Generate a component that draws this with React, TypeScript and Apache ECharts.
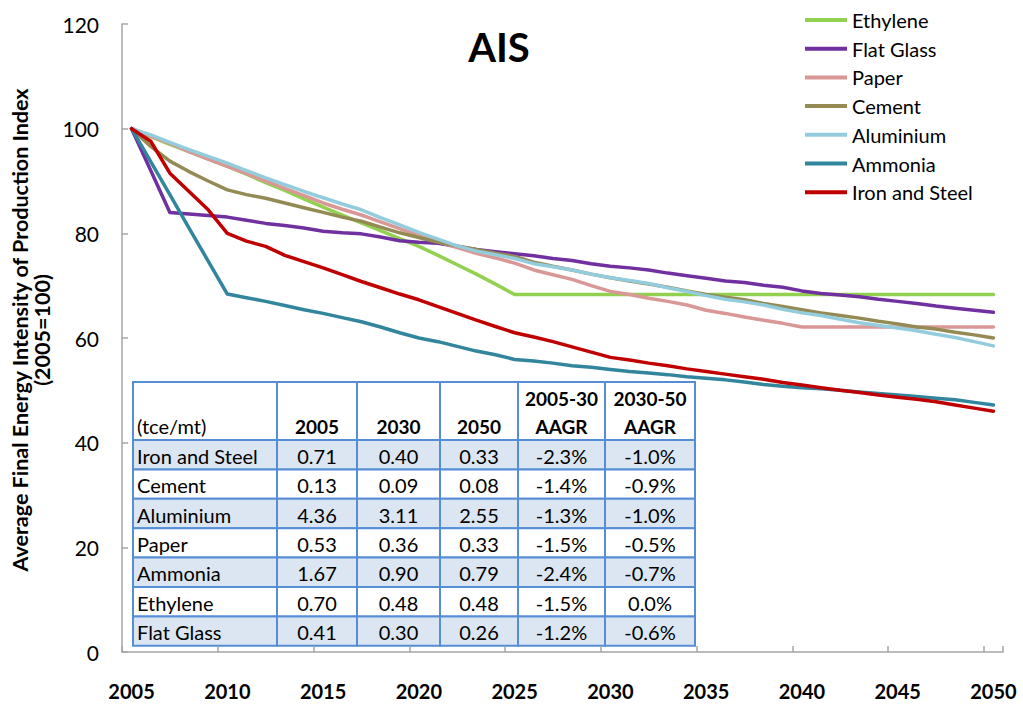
import React, { useEffect, useRef } from "react";
import * as echarts from "echarts";

const years = [
  "2005","2006","2007","2008","2009","2010","2011","2012","2013","2014",
  "2015","2016","2017","2018","2019","2020","2021","2022","2023","2024",
  "2025","2026","2027","2028","2029","2030","2031","2032","2033","2034",
  "2035","2036","2037","2038","2039","2040","2041","2042","2043","2044",
  "2045","2046","2047","2048","2049","2050",
];

const ethylene = [
  100, 98.5, 97, 95.6, 94.2, 92.8, 91.3, 89.7, 88.2, 86.6,
  85.0, 83.5, 82.0, 80.5, 79.0, 77.5, 75.8, 74.0, 72.2, 70.3,
  68.3, 68.3, 68.3, 68.3, 68.3, 68.3, 68.3, 68.3, 68.3, 68.3,
  68.3, 68.3, 68.3, 68.3, 68.3, 68.3, 68.3, 68.3, 68.3, 68.3,
  68.3, 68.3, 68.3, 68.3, 68.3, 68.3,
];
const flatGlass = [
  100, 92, 84.0, 83.7, 83.4, 83.1, 82.5, 81.9, 81.5, 81.0,
  80.4, 80.1, 79.9, 79.3, 78.6, 78.3, 78.1, 77.5, 76.9, 76.5,
  76.1, 75.7, 75.2, 74.8, 74.2, 73.7, 73.4, 73.0, 72.4, 71.9,
  71.4, 70.9, 70.6, 70.1, 69.7, 69.0, 68.5, 68.2, 67.9, 67.4,
  67.0, 66.6, 66.1, 65.7, 65.3, 64.9,
];
const paper = [
  100, 98.6, 97.2, 95.6, 94.2, 92.8, 91.4, 90.0, 88.6, 87.2,
  85.8, 84.6, 83.5, 82.2, 80.9, 79.6, 78.4, 77.3, 76.2, 75.3,
  74.3, 73.0, 72.1, 71.2, 70.0, 68.9, 68.3, 67.6, 67.0, 66.3,
  65.3, 64.7, 64.0, 63.4, 62.8, 62.1, 62.1, 62.1, 62.1, 62.1,
  62.1, 62.1, 62.1, 62.1, 62.1, 62.1,
];
const cement = [
  100, 96.6, 93.8, 91.8, 90.0, 88.3, 87.4, 86.7, 85.8, 84.9,
  84.0, 83.1, 82.3, 81.2, 80.1, 79.2, 78.3, 77.6, 76.9, 76.2,
  75.6, 74.5, 73.7, 73.0, 72.2, 71.5, 70.9, 70.3, 69.7, 69.0,
  68.3, 67.8, 67.3, 66.6, 66.0, 65.4, 64.8, 64.3, 63.8, 63.2,
  62.7, 62.1, 61.7, 61.1, 60.6, 60.0,
];
const aluminium = [
  100, 98.8, 97.4, 96.0, 94.7, 93.4, 92.0, 90.6, 89.3, 88.0,
  86.8, 85.6, 84.5, 83.0, 81.6, 80.2, 78.9, 77.6, 76.6, 75.9,
  75.2, 74.2, 73.6, 73.0, 72.2, 71.5, 71.0, 70.4, 69.6, 68.9,
  68.1, 67.4, 66.9, 66.3, 65.5, 64.8, 64.3, 63.6, 62.9, 62.4,
  61.9, 61.4, 60.7, 60.1, 59.3, 58.5,
];
const ammonia = [
  100, 93.7, 87.4, 81.0, 74.7, 68.4, 67.7, 67.0, 66.2, 65.4,
  64.7, 63.9, 63.1, 62.1, 61.0, 60.0, 59.3, 58.4, 57.5, 56.8,
  55.9, 55.6, 55.2, 54.7, 54.4, 54.0, 53.6, 53.3, 53.0, 52.6,
  52.3, 52.0, 51.6, 51.1, 50.8, 50.5, 50.3, 50.0, 49.7, 49.4,
  49.1, 48.8, 48.5, 48.2, 47.7, 47.2,
];
const ironSteel = [
  100, 97.6, 91.5, 88.0, 84.5, 80.0, 78.5, 77.5, 75.8, 74.6,
  73.4, 72.1, 70.8, 69.6, 68.4, 67.3, 66.0, 64.7, 63.4, 62.2,
  61.0, 60.2, 59.3, 58.3, 57.3, 56.3, 55.8, 55.2, 54.7, 54.1,
  53.6, 53.1, 52.6, 52.1, 51.5, 51.0, 50.5, 50.0, 49.6, 49.1,
  48.7, 48.3, 47.8, 47.2, 46.6, 46.0,
];

const seriesNames = ["Ethylene", "Flat Glass", "Paper", "Cement", "Aluminium", "Ammonia", "Iron and Steel"];
const seriesData = [ethylene, flatGlass, paper, cement, aluminium, ammonia, ironSteel];
const seriesColors = ["#92d050", "#7030a0", "#d99795", "#948a54", "#93cddd", "#31859c", "#c00000"];

// table
const tableUnit = "(tce/mt)";
const tableHeadTop = ["", "", "", "", "2005-30", "2030-50"];
const tableHeadBottom = ["", "2005", "2030", "2050", "AAGR", "AAGR"];
const tableNames = ["Iron and Steel", "Cement", "Aluminium", "Paper", "Ammonia", "Ethylene", "Flat Glass"];
const t2005 = ["0.71", "0.13", "4.36", "0.53", "1.67", "0.70", "0.41"];
const t2030 = ["0.40", "0.09", "3.11", "0.36", "0.90", "0.48", "0.30"];
const t2050 = ["0.33", "0.08", "2.55", "0.33", "0.79", "0.48", "0.26"];
const aagr0530 = ["-2.3%", "-1.4%", "-1.3%", "-1.5%", "-2.4%", "-1.5%", "-1.2%"];
const aagr3050 = ["-1.0%", "-0.9%", "-1.0%", "-0.5%", "-0.7%", "0.0%", "-0.6%"];

const FONT = "Lato, 'Noto Sans', sans-serif";

function buildTable() {
  const colX = [133, 277, 357, 440, 518, 605, 695];
  const top = 382;
  const headH = 58;
  const rowH = 29.4;
  const border = "#558ed5";
  const stripe = "#dce6f2";
  const els: any[] = [];
  for (let c = 0; c < 6; c++) {
    els.push({
      type: "rect",
      shape: { x: colX[c], y: top, width: colX[c + 1] - colX[c], height: headH },
      style: { fill: "#ffffff", stroke: border, lineWidth: 2 },
    });
  }
  els.push({
    type: "text",
    x: colX[0] + 4,
    y: top + headH - 14,
    style: { text: tableUnit, font: `20px ${FONT}`, fill: "#000", align: "left", verticalAlign: "middle" },
  });
  for (let c = 1; c < 6; c++) {
    const cx = (colX[c] + colX[c + 1]) / 2;
    if (tableHeadTop[c]) {
      els.push({
        type: "text",
        x: cx,
        y: top + 16,
        style: { text: tableHeadTop[c], font: `bold 19px ${FONT}`, fill: "#000", align: "center", verticalAlign: "middle" },
      });
    }
    els.push({
      type: "text",
      x: cx,
      y: top + headH - 14,
      style: { text: tableHeadBottom[c], font: `bold 19px ${FONT}`, fill: "#000", align: "center", verticalAlign: "middle" },
    });
  }
  const cols = [tableNames, t2005, t2030, t2050, aagr0530, aagr3050];
  for (let r = 0; r < tableNames.length; r++) {
    const y = top + headH + r * rowH;
    const fill = r % 2 === 0 ? stripe : "#ffffff";
    for (let c = 0; c < 6; c++) {
      els.push({
        type: "rect",
        shape: { x: colX[c], y, width: colX[c + 1] - colX[c], height: rowH },
        style: { fill, stroke: border, lineWidth: 2 },
      });
      const isFirst = c === 0;
      els.push({
        type: "text",
        x: isFirst ? colX[0] + 4 : (colX[c] + colX[c + 1]) / 2,
        y: y + rowH / 2 + 1,
        style: {
          text: cols[c][r],
          font: `20px ${FONT}`,
          fill: "#000",
          align: isFirst ? "left" : "center",
          verticalAlign: "middle",
        },
      });
    }
  }
  return { type: "group", z: 100, children: els };
}

export default function App() {
  const ref = useRef<HTMLDivElement>(null);
  useEffect(() => {
    if (!ref.current) return;
    const chart = echarts.init(ref.current, undefined, { renderer: "svg" });
    const option: any = {
      animation: false,
      backgroundColor: "#ffffff",
      textStyle: { fontFamily: FONT },
      grid: { left: 122, right: 20, top: 24, bottom: 52, containLabel: false },
      legend: {
        orient: "vertical",
        left: 805,
        top: 10,
        padding: 0,
        icon: "rect",
        itemWidth: 42,
        itemHeight: 4,
        itemGap: 8.7,
        textStyle: { fontSize: 20, lineHeight: 20, color: "#000", fontFamily: FONT },
        data: seriesNames,
      },
      xAxis: {
        type: "category",
        data: years,
        boundaryGap: true,
        axisLine: { lineStyle: { color: "#a6a6a6", width: 1.5 } },
        axisTick: { show: true, inside: true, length: 6, interval: 4, alignWithLabel: false, lineStyle: { color: "#a6a6a6", width: 1.5 } },
        axisLabel: { interval: 4, margin: 29, color: "#000", fontSize: 20, fontWeight: "bold", fontFamily: FONT },
        splitLine: { show: false },
      },
      yAxis: {
        type: "value",
        min: 0,
        max: 120,
        interval: 20,
        axisLine: { show: true, lineStyle: { color: "#a6a6a6", width: 1.5 } },
        axisTick: { show: true, inside: true, length: 6, lineStyle: { color: "#a6a6a6", width: 1.5 } },
        axisLabel: { margin: 23, color: "#000", fontSize: 21, fontFamily: FONT },
        splitLine: { show: false },
      },
      series: seriesNames.map((name, i) => ({
        name,
        type: "line",
        data: seriesData[i],
        symbol: "none",
        showSymbol: false,
        lineStyle: { color: seriesColors[i], width: 3.5, cap: "round", join: "round" },
        itemStyle: { color: seriesColors[i] },
        z: 2 + i,
      })),
      graphic: [
        {
          type: "text",
          x: 499,
          y: 47,
          style: { text: "AIS", font: `bold 40px ${FONT}`, fill: "#000", align: "center", verticalAlign: "middle" },
        },
        {
          type: "text",
          x: 31,
          y: 330,
          rotation: Math.PI / 2,
          style: {
            text: "Average Final Energy Intensity of Production Index\n(2005=100)",
            font: `bold 21.5px ${FONT}`,
            lineHeight: 22,
            fill: "#000",
            align: "center",
            verticalAlign: "middle",
          },
        },
        buildTable(),
      ],
    };
    chart.setOption(option);
    return () => chart.dispose();
  }, []);
  return (
    <div
      ref={ref}
      style={{ position: "absolute", left: 0, top: 0, width: 1023, height: 704, background: "#fff" }}
    />
  );
}
